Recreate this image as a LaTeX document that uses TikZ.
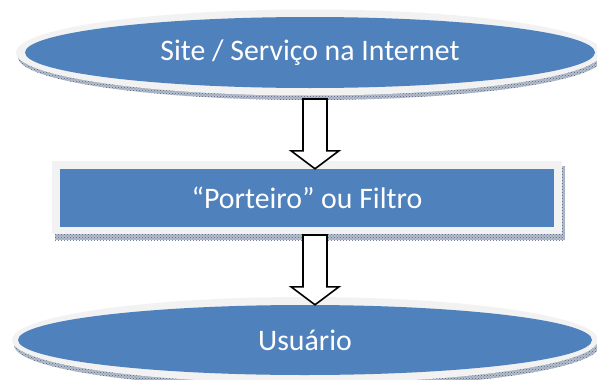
\documentclass[tikz,border=0pt]{standalone}
\usepackage{fontspec}
\setmainfont{Carlito}
\usetikzlibrary{shapes.geometric,calc,patterns}
\definecolor{boxblue}{HTML}{4F81BD}
\definecolor{ringgray}{HTML}{F2F2F2}
\definecolor{bandfill}{HTML}{B4BECC}
\definecolor{banddots}{HTML}{56667E}
\tikzset{
  bluefill/.style={fill=boxblue, draw=none, inner sep=0pt},
  ring/.style={fill=ringgray, draw=none},
  band/.style={fill=bandfill, draw=none},
  bandhatch/.style={pattern=crosshatch dots, pattern color=banddots, draw=none},
  label/.style={text=white, font=\fontsize{29.8}{32}\selectfont},
  blockarrow/.style={draw=black, line width=1.6pt, fill=white, line join=miter},
}
\newcommand{\blockarr}[2]{%
  \draw[blockarrow] ($(#1)+(-12,0)$) -- ($(#2)+(-12,-18)$) -- ($(#2)+(-24,-18)$)
    -- (#2) -- ($(#2)+(24,-18)$) -- ($(#2)+(12,-18)$) -- ($(#1)+(12,0)$) -- cycle;}
\begin{document}
\begin{tikzpicture}[x=1pt,y=-1pt]
\useasboundingbox (0,0) rectangle (597,380);
\clip (0,0) rectangle (597,380);

% top ellipse: band, light ring, blue face
\fill[band] (311,57) ellipse [x radius=293, y radius=43];
\fill[bandhatch] (311,57) ellipse [x radius=293, y radius=43];
\fill[ring] (309,52.5) ellipse [x radius=293, y radius=43];
\node[bluefill, ellipse, minimum width=570pt, minimum height=71pt] (site) at (310,52.5) {};
\node[label] at (site.center) {Site / Serviço na Internet};

% middle rectangle: band, light frame, blue face
\fill[band] (55,166) rectangle (565,240);
\fill[bandhatch] (55,166) rectangle (565,240);
\fill[ring] (52,161) rectangle (562,234);
\node[bluefill, rectangle, minimum width=494pt, minimum height=58pt] (filtro) at (307,198) {};
\node[label] at (filtro.center) {“Porteiro” ou Filtro};

% bottom ellipse
\fill[band] (307,345) ellipse [x radius=293, y radius=43];
\fill[bandhatch] (307,345) ellipse [x radius=293, y radius=43];
\fill[ring] (305,340) ellipse [x radius=293, y radius=43];
\node[bluefill, ellipse, minimum width=574pt, minimum height=70pt] (usuario) at (305,340) {};
\node[label] at (usuario.center) {Usuário};

% block arrows between the stages
\coordinate (a1s) at (315,99);
\coordinate (a2s) at (315,235);
\blockarr{a1s}{filtro.north -| a1s}
\blockarr{a2s}{usuario.north -| a2s}
\end{tikzpicture}
\end{document}
